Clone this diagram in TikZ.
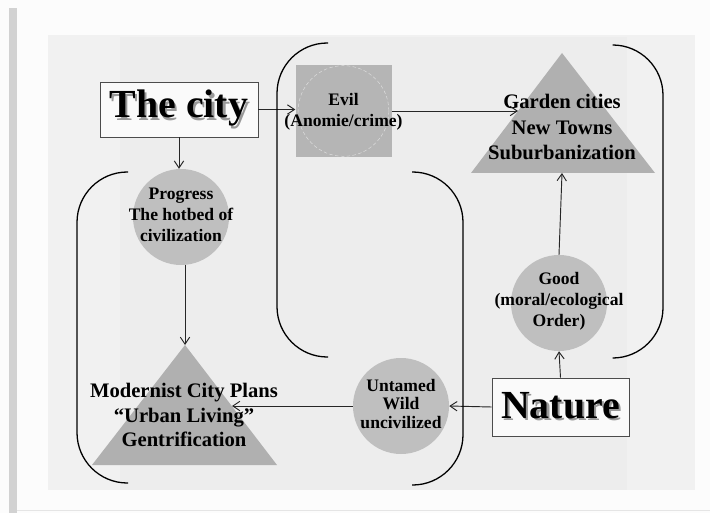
\documentclass[tikz,border=0pt]{standalone}
\usepackage{fontspec}
\setmainfont{Liberation Serif}
\usetikzlibrary{arrows.meta}

% texte avec ombre portee
\newcommand\ombre[1]{\makebox[0pt][l]{\kern1.8pt\raisebox{-1.8pt}{\textcolor{black!40}{#1}}}#1}

\begin{document}
\begin{tikzpicture}[x=0.03cm, y=-0.03cm]
	\tikzset{rond/.style={circle, fill=gray!50, minimum size=2.88cm, inner sep=0pt},
	carre/.style={rectangle, fill=gray!58, minimum width=2.88cm, minimum height=2.76cm, inner sep=0pt},
	boite/.style={rectangle, draw=black!70, line width=0.7pt, fill=gray!4, inner sep=0pt, font=\bfseries\fontsize{34}{40}\selectfont},
	texte/.style={align=center, inner sep=0pt, font=\bfseries\fontsize{15}{18}\selectfont},
	grand/.style={align=center, inner sep=0pt, font=\bfseries\fontsize{17.6}{21}\selectfont},
	pointe/.style={fill=gray!62},
	fleche/.style={-{Straight Barb[length=6pt, width=8pt]}, line width=0.8pt, draw=black!85},
	crochet/.style={line width=1.1pt, rounded corners=43pt}};

	\useasboundingbox (0,0) rectangle (710,513);
	\fill[gray!2] (0,0) rectangle (710,513);
	\fill[gray!35] (9,8) rectangle (17,513);
	\draw[gray!20] (17,510.5) -- (710,510.5);
	\fill[gray!11] (48,35) rectangle (695,490);
	\fill[gray!14] (120,37) rectangle (627,490);

	% triangles
	\coordinate (gardT) at (562,53);
	\coordinate (gardL) at (471,173);
	\coordinate (gardR) at (655,173);
	\coordinate (gardB) at (562,173);
	\coordinate (gardin) at (518,113);
	\coordinate (modT) at (185,345);
	\coordinate (modL) at (92,465);
	\coordinate (modR) at (277,465);
	\coordinate (modin) at (232,406);
	\fill[pointe] (gardL) -- (gardT) -- (gardR) -- cycle;
	\fill[pointe] (modL) -- (modT) -- (modR) -- cycle;
	\node[grand] (garden) at (562,127) {Garden cities\\[1pt]New Towns\\[1pt]Suburbanization};
	\node[grand] (modern) at (184,415) {Modernist City Plans\\“Urban Living”\\Gentrification};

	% cercles et carre
	\foreach \nom/\x/\y/\txt in {prog/181/217/{Progress\\The hotbed of\\civilization}, good/559/303/{Good\\(moral/ecological\\Order)}, wild/401/406/{Untamed\\[-2pt]Wild\\[-2pt]uncivilized}}{
		\node[rond] (\nom) at (\x,\y) {};
		\node[texte] (t-\nom) at (\x,\y-2) {\txt};
	}
	\node[carre] (evil) at (343.5,111) {};
	\draw[white!75!gray, densely dashed, line width=0.4pt] (evil) circle[radius=1.36cm];
	\node[texte] (t-evil) at (343.5,112) {Evil\\(Anomie/crime)};

	\node[boite, minimum width=4.74cm, minimum height=1.65cm] (city) at (179,109.5) {\ombre{The city}};
	\node[boite, minimum width=4.11cm, minimum height=1.74cm] (nature) at (560.5,407) {\ombre{Nature}};

	\draw[fleche] (city.east) -- (evil.west |- city.east);
	\draw[fleche] (evil.east) -- (evil.east -| gardin);
	\draw[fleche] (city.south) -- (city.south |- prog.north);
	\draw[fleche] (prog.south -| modT) -- (modT);
	\draw[fleche] (nature.north) -- (good.south);
	\draw[fleche] (good.north) -- (gardB);
	\draw[fleche] (nature.west) -- (wild.east);
	\draw[fleche] (wild.west) -- (wild.west -| modin);

	% crochets
	\foreach \xa/\xb/\ya/\yb in {328/277/43/357, 613/663/45/358, 128/77/172/483, 412/463/172/485}{
		\draw[crochet] (\xa,\ya) -- (\xb,\ya) -- (\xb,\yb) -- (\xa,\yb);
	}

\end{tikzpicture}
\end{document}
